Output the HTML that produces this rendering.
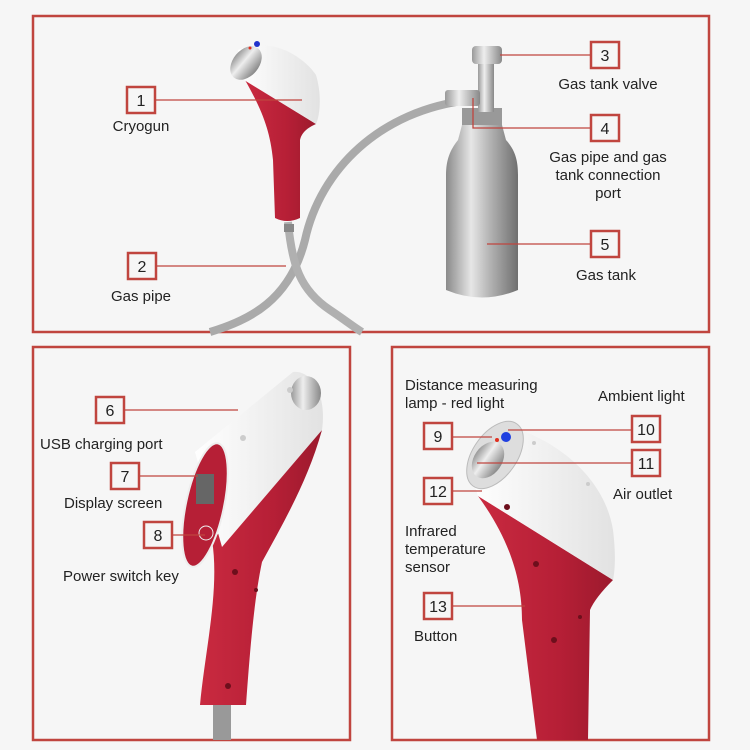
<!DOCTYPE html>
<html><head><meta charset="utf-8"><style>
body{margin:0;background:#f6f6f6;}
svg{display:block;font-family:"Liberation Sans",sans-serif;}
text{font-size:15px;fill:#222;}
.n{font-size:16px;text-anchor:middle;}
.c{text-anchor:middle;}
.b{fill:#f6f6f6;stroke:#c0453f;stroke-width:2.5;}
.l{stroke:#c0453f;stroke-width:1.3;fill:none;}
.p{fill:none;stroke:#c0453f;stroke-width:2.5;}
</style></head><body>
<svg width="750" height="750" viewBox="0 0 750 750">
<defs>
<linearGradient id="tank" x1="0" x2="1"><stop offset="0" stop-color="#8a8a8a"/><stop offset=".35" stop-color="#e6e6e6"/><stop offset=".6" stop-color="#b5b5b5"/><stop offset="1" stop-color="#6f6f6f"/></linearGradient>
<linearGradient id="red" x1="0" x2="1"><stop offset="0" stop-color="#c92a40"/><stop offset=".6" stop-color="#b61f36"/><stop offset="1" stop-color="#9c1a2d"/></linearGradient>
<linearGradient id="wh" x1="0" x2="1"><stop offset="0" stop-color="#fff"/><stop offset="1" stop-color="#e2e2e2"/></linearGradient>
<linearGradient id="met" x1="0" x2="1"><stop offset="0" stop-color="#999"/><stop offset=".4" stop-color="#eee"/><stop offset="1" stop-color="#888"/></linearGradient>
</defs>
<rect class="p" x="33" y="16" width="676" height="316"/>
<rect class="p" x="33" y="347" width="317" height="393"/>
<rect class="p" x="392" y="347" width="317" height="393"/>

<path d="M470,100 C380,110 320,170 305,240 C290,300 250,320 210,332" fill="none" stroke="#aaa" stroke-width="8"/>
<path d="M288,222 C292,265 300,290 330,310 C345,320 355,328 362,332" fill="none" stroke="#b0b0b0" stroke-width="8"/>
<rect x="462" y="108" width="40" height="20" fill="#999"/>
<path d="M462,125 L502,125 L506,140 C515,150 518,160 518,175 L518,290 Q482,305 446,290 L446,175 C446,160 450,150 458,140 Z" fill="url(#tank)"/>
<rect x="478" y="62" width="16" height="50" fill="url(#met)"/>
<rect x="472" y="46" width="30" height="18" rx="4" fill="url(#met)"/>
<rect x="445" y="90" width="35" height="16" rx="3" fill="url(#met)"/>

<path d="M245,80 C262,110 270,130 273,160 L275,218 Q287,224 300,218 L300,140 Q302,130 316,124 Z" fill="url(#red)"/>
<path d="M238,50 C270,36 302,55 316,75 C322,95 320,115 316,124 L244,80 Z" fill="url(#wh)"/>
<ellipse cx="246" cy="63" rx="13" ry="19" transform="rotate(40 246 63)" fill="url(#met)"/>
<circle cx="257" cy="44" r="3" fill="#2233cc"/>
<circle cx="250" cy="48" r="1.5" fill="#e03020"/>
<rect x="284" y="224" width="10" height="8" fill="#888"/>

<path d="M212,540 C220,590 205,650 200,705 L246,705 C250,650 254,600 262,562 C285,520 308,480 322,430 Z" fill="url(#red)"/>
<path d="M195,452 L293,372 C312,370 327,395 322,430 L222,547 Z" fill="url(#wh)"/>
<ellipse cx="306" cy="393" rx="15" ry="17" fill="url(#met)"/>
<ellipse cx="205" cy="505" rx="19" ry="63" transform="rotate(12 205 505)" fill="#b61f36" stroke="#eee" stroke-width="2"/>
<rect x="196" y="474" width="18" height="30" fill="#666"/>
<circle cx="206" cy="533" r="7" fill="none" stroke="#eee" stroke-width="1"/>
<rect x="213" y="705" width="18" height="35" fill="#999"/>
<g fill="#6d0f1c"><circle cx="235" cy="572" r="3"/><circle cx="228" cy="686" r="3"/><circle cx="256" cy="590" r="2"/></g>
<g fill="#ccc"><circle cx="243" cy="438" r="3"/><circle cx="290" cy="390" r="3"/></g>

<path d="M478,496 C510,540 522,580 522,620 L537,740 L588,740 L590,610 Q595,598 613,580 Z" fill="url(#red)"/>
<path d="M470,470 L505,425 C560,440 605,480 613,530 C616,555 615,570 613,580 L478,496 Z" fill="url(#wh)"/>
<ellipse cx="495" cy="455" rx="22" ry="38" transform="rotate(35 495 455)" fill="#ddd" stroke="#bbb"/>
<ellipse cx="488" cy="460" rx="14" ry="20" transform="rotate(35 488 460)" fill="url(#met)"/>
<circle cx="506" cy="437" r="5" fill="#1f3fe0"/>
<circle cx="497" cy="440" r="2" fill="#e03020"/>
<g fill="#6d0f1c"><circle cx="507" cy="507" r="3"/><circle cx="536" cy="564" r="3"/><circle cx="554" cy="640" r="3"/><circle cx="580" cy="617" r="2"/></g>
<g fill="#ccc"><circle cx="534" cy="443" r="2"/><circle cx="588" cy="484" r="2"/></g>

<path class="l" d="M156,100 H302"/>
<path class="l" d="M157,266 H286"/>
<path class="l" d="M590,55 H500"/>
<path class="l" d="M590,128 H473 V98"/>
<path class="l" d="M590,244 H487"/>
<path class="l" d="M125,410 H238"/>
<path class="l" d="M140,476 H198"/>
<path class="l" d="M173,535 H205"/>
<path class="l" d="M452,437 H492"/>
<path class="l" d="M631,430 H508"/>
<path class="l" d="M631,463 H477"/>
<path class="l" d="M452,491 H482"/>
<path class="l" d="M452,606 H525"/>

<rect class="b" x="127" y="87" width="28" height="26"/><text class="n" x="141" y="106">1</text>
<rect class="b" x="128" y="253" width="28" height="26"/><text class="n" x="142" y="272">2</text>
<rect class="b" x="591" y="42" width="28" height="26"/><text class="n" x="605" y="61">3</text>
<rect class="b" x="591" y="115" width="28" height="26"/><text class="n" x="605" y="134">4</text>
<rect class="b" x="591" y="231" width="28" height="26"/><text class="n" x="605" y="250">5</text>
<rect class="b" x="96" y="397" width="28" height="26"/><text class="n" x="110" y="416">6</text>
<rect class="b" x="111" y="463" width="28" height="26"/><text class="n" x="125" y="482">7</text>
<rect class="b" x="144" y="522" width="28" height="26"/><text class="n" x="158" y="541">8</text>
<rect class="b" x="424" y="423" width="28" height="26"/><text class="n" x="438" y="442">9</text>
<rect class="b" x="632" y="416" width="28" height="26"/><text class="n" x="646" y="435">10</text>
<rect class="b" x="632" y="450" width="28" height="26"/><text class="n" x="646" y="469">11</text>
<rect class="b" x="424" y="478" width="28" height="26"/><text class="n" x="438" y="497">12</text>
<rect class="b" x="424" y="593" width="28" height="26"/><text class="n" x="438" y="612">13</text>

<text class="c" x="141" y="131">Cryogun</text>
<text class="c" x="141" y="301">Gas pipe</text>
<text class="c" x="608" y="89">Gas tank valve</text>
<text class="c" x="608" y="162">Gas pipe and gas</text>
<text class="c" x="608" y="180">tank connection</text>
<text class="c" x="608" y="198">port</text>
<text class="c" x="606" y="280">Gas tank</text>
<text x="40" y="449">USB charging port</text>
<text x="64" y="508">Display screen</text>
<text x="63" y="581">Power switch key</text>
<text x="405" y="390">Distance measuring</text>
<text x="405" y="408">lamp - red light</text>
<text x="598" y="401">Ambient light</text>
<text x="613" y="499">Air outlet</text>
<text x="405" y="536">Infrared</text>
<text x="405" y="554">temperature</text>
<text x="405" y="572">sensor</text>
<text x="414" y="641">Button</text>
</svg>
</body></html>
